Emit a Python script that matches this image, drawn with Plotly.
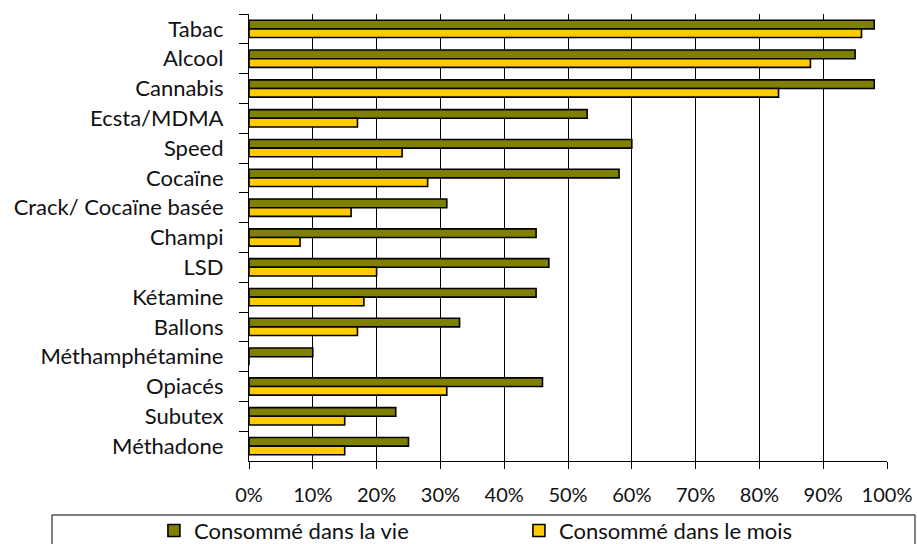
import plotly.graph_objects as go

categories = ["Tabac", "Alcool", "Cannabis", "Ecsta/MDMA", "Speed", "Cocaïne",
              "Crack/ Cocaïne basée", "Champi", "LSD", "Kétamine", "Ballons",
              "Méthamphétamine", "Opiacés", "Subutex", "Méthadone"]
vie = [0.98, 0.95, 0.98, 0.53, 0.60, 0.58, 0.31, 0.45, 0.47, 0.45, 0.33, 0.10, 0.46, 0.23, 0.25]
mois = [0.96, 0.88, 0.83, 0.17, 0.24, 0.28, 0.16, 0.08, 0.20, 0.18, 0.17, 0.0, 0.31, 0.15, 0.15]
x_ticks = [i / 10 for i in range(11)]

FONT = "Lato, 'Noto Sans', sans-serif"

fig = go.Figure()
fig.add_trace(go.Bar(y=categories, x=vie, orientation="h", name="Consommé dans la vie",
                     marker=dict(color="#808000", line=dict(color="black", width=1.6))))
fig.add_trace(go.Bar(y=categories, x=mois, orientation="h", name="Consommé dans le mois",
                     marker=dict(color="#FFCC00", line=dict(color="black", width=1.6))))

fig.update_layout(
    width=917, height=544,
    margin=dict(l=249, r=30, t=14, b=83, autoexpand=False),
    paper_bgcolor="white", plot_bgcolor="white",
    barmode="group", bargap=0.42, bargroupgap=0.0,
    font=dict(family=FONT, size=20, color="#111111"),
    showlegend=True,
    legend=dict(orientation="h", x=-0.149, y=-0.156, xanchor="left", yanchor="middle",
                entrywidth=320, entrywidthmode="pixels",
                font=dict(size=22), bgcolor="rgba(0,0,0,0)", traceorder="normal"),
    shapes=[dict(type="rect", xref="paper", yref="paper", x0=-0.3088, x1=1.0439, y0=-0.1208, y1=-0.25,
                 line=dict(color="black", width=1), fillcolor="rgba(0,0,0,0)")],
)
fig.update_xaxes(range=[0, 1], tickvals=x_ticks, tickformat=".0%",
                 showgrid=True, gridcolor="black", gridwidth=1.2,
                 showline=True, linecolor="black", linewidth=1.2,
                 ticks="outside", ticklen=7, tickcolor="black", tickwidth=1.2, zeroline=False,
                 ticklabelstandoff=9, tickfont=dict(size=20))
fig.update_yaxes(autorange="reversed", showline=True, linecolor="black", linewidth=1.2,
                 ticks="outside", ticklen=9, tickcolor="black", tickwidth=1.2, tickson="boundaries",
                 showgrid=False, ticklabelstandoff=20, tickfont=dict(size=22))

fig.write_html("out.html")
